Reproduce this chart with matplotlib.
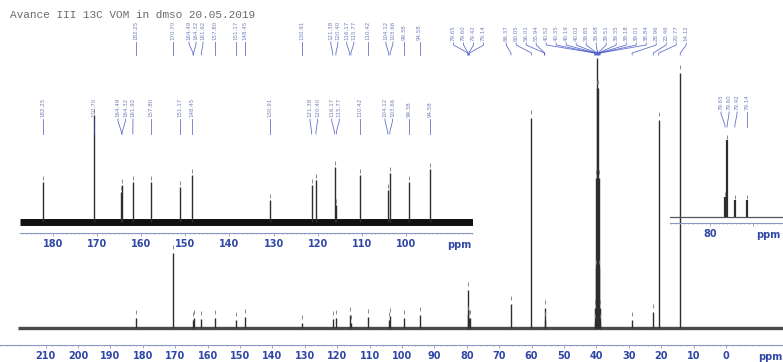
import numpy as np
import matplotlib.pyplot as plt
from matplotlib.ticker import MultipleLocator

W, H = 783, 362

# ---- data ----
header = "Avance III 13C VOM in dmso 20.05.2019"

# aromatic / carbonyl region (shown in the left inset)
hi_ppm = [182.25, 170.70, 164.49, 164.32, 161.92, 157.80, 151.17, 148.45, 130.91,
          121.38, 120.40, 116.17, 115.77, 110.42, 104.12, 103.66, 99.38, 94.58]
hi_main_h = [10, 75, 8, 10, 9, 10, 8, 11, 5, 9, 10, 13, 5, 11, 8, 12, 10, 13]
hi_inset_h = [40, 107, 30, 37, 40, 40, 35, 47, 22, 37, 42, 55, 17, 47, 32, 49, 40, 53]

# cluster near 79 ppm (shown in the right inset)
mid_ppm = [79.65, 79.60, 79.42, 79.14]
mid_main_h = [14, 38, 10, 10]
mid_inset_h = [20, 77, 17, 17]

# aliphatic region + dmso
lo_ppm = [66.37, 60.05, 56.01, 55.94,
          40.52, 40.35, 40.19, 40.02, 39.85, 39.68, 39.51, 39.35, 39.18, 39.01, 38.84,
          28.96, 22.46, 20.77, 14.12]
lo_main_h = [24, 210, 20, 8,
             6, 20, 60, 150, 240, 270, 240, 150, 60, 20, 6,
             8, 16, 208, 255]

spec_range = [218.5, -20.0]
main_ticks = list(range(210, -1, -10))
inset_ticks = list(range(180, 99, -10))
zoom_ticks = [80, 79]
zoom_tick_labels = ['80', '']

LAB_C = '#7480bd'
CONN_C = '#3f4fc2'
TICK_C = '#2f47a6'
SPINE_C = '#8d98c2'
PEAK_C = '#2e2e2e'

fig = plt.figure(figsize=(W / 100, H / 100), dpi=100)


def px_axes(left, top, right, bottom):
    ax = fig.add_axes([left / W, 1 - bottom / H, (right - left) / W, (bottom - top) / H])
    ax.set_facecolor('none')
    return ax


def style_axis(ax, ticks, labels, minor):
    for s in ['top', 'left', 'right']:
        ax.spines[s].set_visible(False)
    ax.spines['bottom'].set_color(SPINE_C)
    ax.spines['bottom'].set_linewidth(0.8)
    ax.spines['bottom'].set_linestyle((0, (2, 1)))
    ax.set_yticks([])
    ax.set_xticks(ticks)
    ax.set_xticklabels(labels)
    ax.xaxis.set_minor_locator(MultipleLocator(minor))
    ax.tick_params(axis='x', which='major', length=2, width=0.6, color=SPINE_C,
                   labelsize=7, labelcolor=TICK_C, pad=2.5)
    ax.tick_params(axis='x', which='minor', length=1, width=0.5, color=SPINE_C)
    for t in ax.get_xticklabels():
        t.set_fontweight('bold')


def ppm_label(ax, xpos, dy=-9):
    ax.annotate('ppm', xy=(xpos, 0), xycoords=ax.get_xaxis_transform(),
                xytext=(0, dy), textcoords='offset points', ha='center', va='center',
                fontsize=7, fontweight='bold', color=TICK_C)


# main spectrum
ax = px_axes(0, 0, W, 345)
ax.set_xlim(224.07, -17.59)
ax.set_ylim(-17, 328)
style_axis(ax, main_ticks, [str(t) for t in main_ticks], 2)
ppm_label(ax, -13.6)
ax.plot(spec_range, [0, 0], color='#4a4a4a', lw=2.4, solid_capstyle='butt')
all_ppm = hi_ppm + mid_ppm + lo_ppm
all_h = hi_main_h + mid_main_h + lo_main_h
ax.vlines(all_ppm, 0, all_h, color=PEAK_C, lw=1.0)
ax.plot(all_ppm, np.array(all_h) + 6, ls='none', marker='|', ms=2.5, mew=0.6, color='#777777')

# left inset
ax1 = px_axes(20, 100, 473, 233)
ax1.set_xlim(187.48, 84.8)
ax1.set_ylim(-11, 122)
style_axis(ax1, inset_ticks, [str(t) for t in inset_ticks], 1)
ppm_label(ax1, 88.0)
ax1.plot(ax1.get_xlim(), [0, 0], color='#111111', lw=5.0, solid_capstyle='butt')
ax1.vlines(hi_ppm, 0, hi_inset_h, color=PEAK_C, lw=1.0)
ax1.plot(hi_ppm, np.array(hi_inset_h) + 4, ls='none', marker='|', ms=2.5, mew=0.6, color='#777777')

# right inset
ax2 = px_axes(670, 128, W, 223)
ax2.set_xlim(80.93, 78.30)
ax2.set_ylim(-6, 89)
style_axis(ax2, zoom_ticks, zoom_tick_labels, 0.1)
ppm_label(ax2, 78.65)
ax2.plot(ax2.get_xlim(), [0, 0], color='#555555', lw=0.9)
ax2.vlines(mid_ppm, 0, mid_inset_h, color=PEAK_C, lw=1.6)
ax2.plot(mid_ppm, np.array(mid_inset_h) + 3, ls='none', marker='|', ms=2.5, mew=0.6, color='#777777')

# overlay in pixel units for peak labels
ov = fig.add_axes([0, 0, 1, 1])
ov.set_xlim(0, W)
ov.set_ylim(H, 0)
ov.axis('off')
ov.set_facecolor('none')


def spread(xs, gap):
    order = np.argsort(xs)
    xs_sorted = np.array(xs)[order]
    clusters = [[i] for i in range(len(xs_sorted))]
    while True:
        pos = []
        for c in clusters:
            cen = xs_sorted[c].mean()
            n = len(c)
            pos.append([cen + (k - (n - 1) / 2) * gap for k in range(n)])
        merged = False
        for i in range(len(clusters) - 1):
            if pos[i][-1] + gap > pos[i + 1][0]:
                clusters[i] = clusters[i] + clusters[i + 1]
                del clusters[i + 1]
                merged = True
                break
        if not merged:
            break
    flat = np.concatenate(pos)
    out = np.empty(len(xs))
    out[order] = flat
    return out


def draw_labels(axx, ppms, text_bottom, c_top, c_bot, gap):
    peak_x = [axx.transData.transform((p, 0))[0] for p in ppms]
    lab_x = spread(peak_x, gap)
    for p, px, lx in zip(ppms, peak_x, lab_x):
        ov.text(lx, text_bottom, '%.2f' % p, rotation=90, ha='center', va='bottom',
                fontsize=4, color=LAB_C)
        ov.plot([lx, lx, px, px], [c_top, c_top + 2, c_bot - 2, c_bot],
                color=CONN_C, lw=0.6, alpha=0.8)


draw_labels(ax, hi_ppm, 40, 42, 55, 7)
draw_labels(ax, mid_ppm + lo_ppm, 41, 43, 55, 10)
draw_labels(ax1, hi_ppm, 117, 119, 134, 7.5)
draw_labels(ax2, mid_ppm, 110, 112, 127, 8)

fig.text(10 / W, 1 - 15 / H, header, fontfamily='Liberation Mono', fontsize=8,
         color='#6b6b6b', va='center', ha='left')

fig.savefig('out.png', dpi=100)
